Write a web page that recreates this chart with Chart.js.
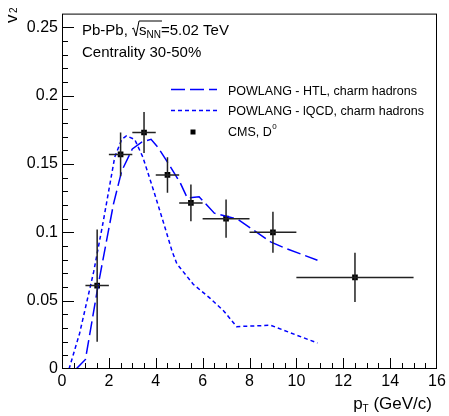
<!DOCTYPE html>
<html>
<head>
<meta charset="utf-8">
<script src="https://cdn.jsdelivr.net/npm/chart.js@4.4.1/dist/chart.umd.min.js"></script>
<style>
  html, body { margin: 0; padding: 0; background: #fff; }
  #wrap { width: 449px; height: 416px; }
</style>
</head>
<body>
<div id="wrap"><canvas id="v2Chart" width="449" height="416"></canvas></div>
<script>
// POWLANG - HTL, charm hadrons
const htlPt = [0.6, 1.0, 1.55, 2.2, 2.55, 3.0, 3.4, 3.8, 4.1, 4.55, 5.05, 5.35, 5.85, 6.5, 7.5, 8.9, 9.5, 10.9];
const htlV2 = [0.0, 0.007, 0.062, 0.121, 0.145, 0.161, 0.166, 0.168, 0.162, 0.150, 0.136, 0.125, 0.126, 0.114, 0.1095, 0.093, 0.0885, 0.0796];

// POWLANG - lQCD, charm hadrons
const lqcdPt = [0.3, 0.75, 1.35, 1.75, 2.0, 2.25, 2.55, 2.75, 3.1, 3.45, 3.9, 4.35, 4.7, 4.9, 5.6, 6.3, 6.9, 7.45, 8.9, 10.9];
const lqcdV2 = [0.0, 0.026, 0.071, 0.107, 0.131, 0.155, 0.168, 0.1705, 0.168, 0.155, 0.131, 0.106, 0.086, 0.077, 0.062, 0.052, 0.0425, 0.031, 0.032, 0.019];

// CMS D0 points
const cmsPt     = [1.5, 2.5, 3.5, 4.5, 5.5, 7, 9, 12.5];
const cmsPtLow  = [1, 2, 3, 4, 5, 6, 8, 10];
const cmsPtHigh = [2, 3, 4, 5, 6, 8, 10, 15];
const cmsV2     = [0.061, 0.157, 0.173, 0.142, 0.1215, 0.110, 0.100, 0.067];
const cmsV2Err  = [0.041, 0.016, 0.015, 0.013, 0.0135, 0.014, 0.015, 0.018];

const xMin = 0, xMax = 16, xStep = 2, xMinor = 0.5;
const yMin = 0, yMax = 0.26, yStep = 0.05, yMinor = 0.01;

const FONT = '"Liberation Sans", Arial, Helvetica, sans-serif';
const BLUE = '#0000ff';

function xy(xs, ys) {
    return xs.map(function (x, i) { return { x: x, y: ys[i] }; });
}

// frame and inward ticks, ROOT style
const framePlugin = {
    id: 'frame',
    afterDraw(chart) {
        const ctx = chart.ctx;
        const a = chart.chartArea;
        const xs = chart.scales.x, ys = chart.scales.y;
        ctx.save();
        ctx.strokeStyle = '#000';
        ctx.lineWidth = 1;
        ctx.strokeRect(a.left + 0.5, a.top + 0.5, a.right - a.left - 1, a.bottom - a.top - 1);

        ctx.beginPath();
        for (let v = xMin + xMinor; v < xMax - 1e-9; v += xMinor) {
            const px = Math.round(xs.getPixelForValue(v)) + 0.5;
            const major = Math.abs(v / xStep - Math.round(v / xStep)) < 1e-6;
            ctx.moveTo(px, a.bottom);
            ctx.lineTo(px, a.bottom - (major ? 11 : 6));
        }
        for (let v = yMin + yMinor; v < yMax - 1e-9; v += yMinor) {
            const py = Math.round(ys.getPixelForValue(v)) + 0.5;
            const major = Math.abs(v / yStep - Math.round(v / yStep)) < 1e-6;
            ctx.moveTo(a.left, py);
            ctx.lineTo(a.left + (major ? 12 : 6), py);
        }
        ctx.stroke();
        ctx.restore();
    }
};

// CMS error bars
const errorBarPlugin = {
    id: 'errorBars',
    afterDatasetsDraw(chart) {
        const ctx = chart.ctx;
        const xs = chart.scales.x, ys = chart.scales.y;
        ctx.save();
        ctx.strokeStyle = '#222';
        ctx.lineWidth = 1.5;
        ctx.beginPath();
        cmsPt.forEach(function (pt, i) {
            const px = xs.getPixelForValue(pt);
            const py = ys.getPixelForValue(cmsV2[i]);
            ctx.moveTo(xs.getPixelForValue(cmsPtLow[i]), py);
            ctx.lineTo(xs.getPixelForValue(cmsPtHigh[i]), py);
            ctx.moveTo(px, ys.getPixelForValue(cmsV2[i] - cmsV2Err[i]));
            ctx.lineTo(px, ys.getPixelForValue(cmsV2[i] + cmsV2Err[i]));
        });
        ctx.stroke();
        ctx.restore();
    }
};

// texts, legend and axis titles
const textPlugin = {
    id: 'texts',
    afterDraw(chart) {
        const ctx = chart.ctx;
        ctx.save();
        ctx.fillStyle = '#000';
        ctx.textBaseline = 'alphabetic';
        ctx.textAlign = 'left';

        // Pb-Pb, sqrt(s_NN)=5.02 TeV
        let x = 82;
        const base = 35;
        ctx.font = '15px ' + FONT;
        ctx.fillText('Pb-Pb, ', x, base);
        x += ctx.measureText('Pb-Pb, ').width;
        // radical sign
        ctx.strokeStyle = '#000';
        ctx.lineWidth = 1;
        ctx.beginPath();
        ctx.moveTo(x, base - 6);
        ctx.lineTo(x + 1.5, base - 7);
        ctx.lineTo(x + 4, base + 1);
        ctx.lineTo(x + 7, base - 14);
        x += 7;
        const sW = ctx.measureText('s').width;
        ctx.font = '10px ' + FONT;
        const nnW = ctx.measureText('NN').width;
        ctx.lineTo(x + sW + nnW + 1, base - 14);
        ctx.stroke();
        ctx.font = '15px ' + FONT;
        ctx.fillText('s', x, base);
        x += sW;
        ctx.font = '10px ' + FONT;
        ctx.fillText('NN', x, base + 3);
        x += nnW;
        ctx.font = '15px ' + FONT;
        ctx.fillText('=5.02 TeV', x, base);

        ctx.fillText('Centrality 30-50%', 82, 57);

        // legend
        ctx.lineWidth = 1.5;
        ctx.strokeStyle = BLUE;
        ctx.setLineDash([14, 5]);
        ctx.beginPath();
        ctx.moveTo(171, 89.5);
        ctx.lineTo(217, 89.5);
        ctx.stroke();
        ctx.setLineDash([4, 3]);
        ctx.beginPath();
        ctx.moveTo(171, 110.5);
        ctx.lineTo(217, 110.5);
        ctx.stroke();
        ctx.setLineDash([]);
        ctx.fillRect(190.5, 129.5, 5, 5);

        ctx.font = '12.5px ' + FONT;
        ctx.fillText('POWLANG - HTL, charm hadrons', 228, 94.5);
        ctx.fillText('POWLANG - lQCD, charm hadrons', 228, 115);
        ctx.fillText('CMS, D', 228, 136);
        const dW = ctx.measureText('CMS, D').width;
        ctx.font = '8px ' + FONT;
        ctx.fillText('0', 228 + dW + 0.5, 129);

        // x title
        ctx.font = '17px ' + FONT;
        ctx.textAlign = 'right';
        ctx.fillText(' (GeV/c)', 432, 409);
        const gW = ctx.measureText(' (GeV/c)').width;
        ctx.font = '10px ' + FONT;
        ctx.fillText('T', 432 - gW, 412);
        const tW = ctx.measureText('T').width;
        ctx.font = '17px ' + FONT;
        ctx.fillText('p', 432 - gW - tW, 409);

        // y title, rotated
        ctx.textAlign = 'left';
        ctx.translate(17, 23);
        ctx.rotate(-Math.PI / 2);
        ctx.font = '17px ' + FONT;
        ctx.fillText('v', 0, 0);
        ctx.font = '10px ' + FONT;
        ctx.fillText('2', 10, 0);
        ctx.restore();
    }
};

const ctx = document.getElementById('v2Chart').getContext('2d');

new Chart(ctx, {
    type: 'scatter',
    data: {
        datasets: [{
            label: 'POWLANG - HTL, charm hadrons',
            data: xy(htlPt, htlV2),
            showLine: true,
            borderColor: BLUE,
            borderWidth: 1.5,
            borderDash: [14, 5],
            pointRadius: 0,
            tension: 0
        }, {
            label: 'POWLANG - lQCD, charm hadrons',
            data: xy(lqcdPt, lqcdV2),
            showLine: true,
            borderColor: BLUE,
            borderWidth: 1.5,
            borderDash: [4, 3],
            pointRadius: 0,
            tension: 0
        }, {
            label: 'CMS, D0',
            data: xy(cmsPt, cmsV2),
            showLine: false,
            pointStyle: 'rect',
            pointRadius: 4,
            pointBackgroundColor: '#000',
            pointBorderColor: '#000',
            pointBorderWidth: 0
        }]
    },
    options: {
        responsive: false,
        animation: false,
        layout: {
            padding: { left: 0, right: 12, top: 7, bottom: 0 }
        },
        plugins: {
            legend: { display: false },
            tooltip: { enabled: false }
        },
        scales: {
            x: {
                type: 'linear',
                min: xMin,
                max: xMax,
                grid: { display: false, drawTicks: false },
                border: { display: false },
                ticks: {
                    stepSize: xStep,
                    padding: 3,
                    color: '#000',
                    font: { family: FONT, size: 16 },
                    maxRotation: 0
                },
                afterFit: function (scale) { scale.height = 47; }
            },
            y: {
                type: 'linear',
                min: yMin,
                max: yMax,
                grid: { display: false, drawTicks: false },
                border: { display: false },
                ticks: {
                    padding: 4,
                    color: '#000',
                    font: { family: FONT, size: 16 },
                    callback: function (v) { return String(+v.toFixed(2)); }
                },
                afterBuildTicks: function (scale) {
                    const t = [];
                    for (let i = 0; i * yStep <= yMax + 1e-9; i++) {
                        t.push({ value: +(i * yStep).toFixed(2) });
                    }
                    scale.ticks = t;
                },
                afterFit: function (scale) { scale.width = 62; }
            }
        }
    },
    plugins: [framePlugin, errorBarPlugin, textPlugin]
});
</script>
</body>
</html>
